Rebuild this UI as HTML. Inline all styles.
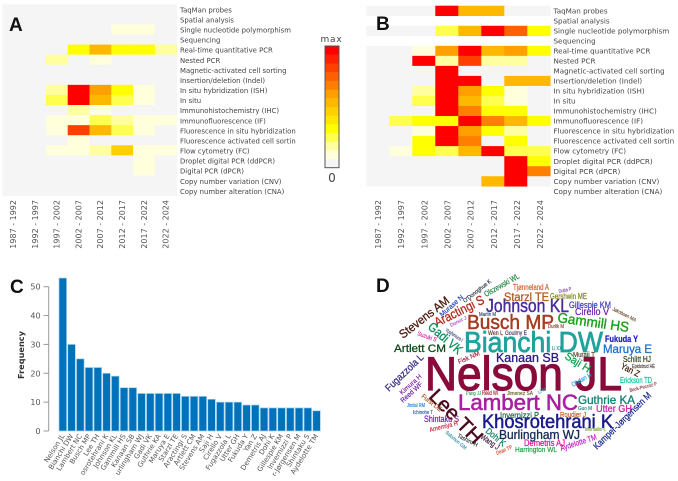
<!DOCTYPE html>
<html lang="en">
<head>
<meta charset="utf-8">
<title>Microchimerism bibliometric figure</title>
<style>
html,body{margin:0;padding:0;background:#fff;width:678px;height:481px;overflow:hidden}
svg{display:block;position:absolute;left:0;top:0;filter:blur(0.3px)}
.lbl{font-family:"DejaVu Sans",sans-serif;fill:#444}
.panel{font-family:"Liberation Sans",sans-serif;font-weight:700;font-size:19px;fill:#111}
.tick{font-family:"DejaVu Sans",sans-serif;font-size:8px;fill:#555}
.xlab{font-family:"DejaVu Sans",sans-serif;font-size:7px;fill:#555}
#wordcloud text{font-family:"Liberation Sans",sans-serif}
</style>
</head>
<body>
<svg id="fig" width="678" height="481" viewBox="0 0 678 481" xmlns="http://www.w3.org/2000/svg">
  <defs><clipPath id="barclip"><rect x="0" y="260" width="340" height="216"/></clipPath></defs>
  <g id="heatA"></g>
  <g id="heatB"></g>
  <g id="cbar"></g>
  <g id="bars"></g>
  <text class="panel" x="9" y="31">A</text>
  <text class="panel" x="376" y="30">B</text>
  <text class="panel" x="10" y="293">C</text>
  <text class="panel" x="376" y="292">D</text>
  <g id="wordcloud">
    <text transform="translate(425 390)" font-size="47" textLength="197" lengthAdjust="spacingAndGlyphs" fill="#8a0a3c">Nelson JL</text>
    <text transform="translate(464 352)" font-size="29" textLength="139" lengthAdjust="spacingAndGlyphs" fill="#1fa39c">Bianchi DW</text>
    <text transform="translate(458 410)" font-size="22" textLength="120" lengthAdjust="spacingAndGlyphs" fill="#a81fa0">Lambert NC</text>
    <text transform="translate(467 329)" font-size="20" textLength="87" lengthAdjust="spacingAndGlyphs" fill="#a83a1e">Busch MP</text>
    <text transform="translate(428 397) rotate(46)" font-size="20" textLength="67" lengthAdjust="spacingAndGlyphs" fill="#4a0a1e">Lee TH</text>
    <text transform="translate(482 428)" font-size="19" textLength="131" lengthAdjust="spacingAndGlyphs" fill="#1a1a8c">Khosrotehrani K</text>
    <text transform="translate(486 312)" font-size="18" textLength="83" lengthAdjust="spacingAndGlyphs" fill="#4b2aa0">Johnson KL</text>
    <text transform="translate(557 322) rotate(8)" font-size="14" textLength="72" lengthAdjust="spacingAndGlyphs" fill="#18a018">Gammill HS</text>
    <text transform="translate(496 362)" font-size="13" textLength="63" lengthAdjust="spacingAndGlyphs" fill="#2d1a80">Kanaan SB</text>
    <text transform="translate(499 439)" font-size="13" textLength="81" lengthAdjust="spacingAndGlyphs" fill="#152a5a">Burlingham WJ</text>
    <text transform="translate(504 301)" font-size="12" textLength="45" lengthAdjust="spacingAndGlyphs" fill="#b05a1e">Starzl TE</text>
    <text transform="translate(437 327) rotate(-26.6)" font-size="13" textLength="54" lengthAdjust="spacingAndGlyphs" fill="#b03020">Aractingi S</text>
    <text transform="translate(403 339) rotate(-38)" font-size="12" textLength="60" lengthAdjust="spacingAndGlyphs" fill="#4a1a10">Stevens AM</text>
    <text transform="translate(427 328) rotate(41)" font-size="13" textLength="41" lengthAdjust="spacingAndGlyphs" fill="#109060">Gadi VK</text>
    <text transform="translate(394 352)" font-size="11" textLength="52" lengthAdjust="spacingAndGlyphs" fill="#0f4a1a">Artlett CM</text>
    <text transform="translate(389 392) rotate(-44)" font-size="10" textLength="49" lengthAdjust="spacingAndGlyphs" fill="#3a2a80">Fugazzola L</text>
    <text transform="translate(603 353)" font-size="12" textLength="49" lengthAdjust="spacingAndGlyphs" fill="#1a70d0">Maruya E</text>
    <text transform="translate(605 342)" font-size="9.5" font-weight="700" textLength="33" lengthAdjust="spacingAndGlyphs" fill="#2020c0">Fukuda Y</text>
    <text transform="translate(578 404)" font-size="12" textLength="57" lengthAdjust="spacingAndGlyphs" fill="#108070">Guthrie KA</text>
    <text transform="translate(596 412)" font-size="10" textLength="36" lengthAdjust="spacingAndGlyphs" fill="#d020a0">Utter GH</text>
    <text transform="translate(564 358) rotate(32)" font-size="11" textLength="28" lengthAdjust="spacingAndGlyphs" fill="#10a050">Saji H</text>
    <text transform="translate(575 315)" font-size="10" textLength="34" lengthAdjust="spacingAndGlyphs" fill="#7020b0">Cirello V</text>
    <text transform="translate(569 308)" font-size="9" textLength="42" lengthAdjust="spacingAndGlyphs" fill="#4040b0">Gillespie KM</text>
    <text transform="translate(550 299)" font-size="8" textLength="37" lengthAdjust="spacingAndGlyphs" fill="#808020">Gershwin ME</text>
    <text transform="translate(513 290)" font-size="8" textLength="36" lengthAdjust="spacingAndGlyphs" fill="#d06030">Tjønneland A</text>
    <text transform="translate(486 297) rotate(-29.5)" font-size="8" textLength="39" lengthAdjust="spacingAndGlyphs" fill="#208040">Olszewski WL</text>
    <text transform="translate(465 303) rotate(-38)" font-size="6" textLength="34" lengthAdjust="spacingAndGlyphs" fill="#203040">O'Donoghue K</text>
    <text transform="translate(442 317) rotate(-41)" font-size="7" textLength="29" lengthAdjust="spacingAndGlyphs" fill="#2040c0">Murase N</text>
    <text transform="translate(417 335) rotate(20)" font-size="6" textLength="20" lengthAdjust="spacingAndGlyphs" fill="#d020a0">Suzuki S</text>
    <text transform="translate(623 362)" font-size="8" textLength="28" lengthAdjust="spacingAndGlyphs" fill="#304020">Schlitt HJ</text>
    <text transform="translate(620 368) rotate(27)" font-size="9" textLength="20" lengthAdjust="spacingAndGlyphs" fill="#402010">Yan Z</text>
    <text transform="translate(620 383)" font-size="8" textLength="32" lengthAdjust="spacingAndGlyphs" fill="#10c0a0">Erickson TD</text>
    <text transform="translate(597 450) rotate(-44.5)" font-size="9.5" textLength="77" lengthAdjust="spacingAndGlyphs" fill="#1a2a90">Kamper-Jørgensen M</text>
    <text transform="translate(424 422)" font-size="9" textLength="35" lengthAdjust="spacingAndGlyphs" fill="#8020b0">Shintaku S</text>
    <text transform="translate(524 446)" font-size="9" textLength="41" lengthAdjust="spacingAndGlyphs" fill="#e010a0">Demetris AJ</text>
    <text transform="translate(561 451) rotate(-18)" font-size="8" textLength="38" lengthAdjust="spacingAndGlyphs" fill="#c020c0">Aydelotte TM</text>
    <text transform="translate(515 452)" font-size="7.5" textLength="42" lengthAdjust="spacingAndGlyphs" fill="#20a040">Harrington WL</text>
    <text transform="translate(485 432) rotate(40)" font-size="9" textLength="23" lengthAdjust="spacingAndGlyphs" fill="#108060">Dohi K</text>
    <text transform="translate(500 418)" font-size="8.5" textLength="39" lengthAdjust="spacingAndGlyphs" fill="#206040">Invernizzi P</text>
    <text transform="translate(560 417)" font-size="7.5" textLength="26" lengthAdjust="spacingAndGlyphs" fill="#c06020">Roudier J</text>
    <text transform="translate(573 357)" font-size="7" textLength="22" lengthAdjust="spacingAndGlyphs" fill="#504020">Muraji T</text>
    <text transform="translate(480 438) rotate(35)" font-size="8" textLength="21" lengthAdjust="spacingAndGlyphs" fill="#402040">Wang J</text>
    <text transform="translate(457 437) rotate(27)" font-size="6" textLength="22" lengthAdjust="spacingAndGlyphs" fill="#304040">Tashiro H</text>
    <text transform="translate(430 432) rotate(-14)" font-size="6.5" textLength="29" lengthAdjust="spacingAndGlyphs" fill="#d02040">Amemiya H</text>
    <text transform="translate(402 395) rotate(-42)" font-size="6.5" textLength="27" lengthAdjust="spacingAndGlyphs" fill="#8020a0">Kimura H</text>
    <text transform="translate(403 403) rotate(-42)" font-size="7" textLength="27" lengthAdjust="spacingAndGlyphs" fill="#6020b0">Reed WF</text>
    <text transform="translate(421 397) rotate(38)" font-size="6.5" textLength="24" lengthAdjust="spacingAndGlyphs" fill="#a05020">Furst DE</text>
    <text transform="translate(407 407)" font-size="5" textLength="18" lengthAdjust="spacingAndGlyphs" fill="#2080d0">Jindal RM</text>
    <text transform="translate(413 414)" font-size="5" textLength="20" lengthAdjust="spacingAndGlyphs" fill="#2050a0">Ichinohe T</text>
    <text transform="translate(459 364) rotate(-23)" font-size="6.5" textLength="23" lengthAdjust="spacingAndGlyphs" fill="#a02040">Fisk NM</text>
    <text transform="translate(466 395)" font-size="5" textLength="15" lengthAdjust="spacingAndGlyphs" fill="#30a060">Pang JJ</text>
    <text transform="translate(482 395)" font-size="6" textLength="16" lengthAdjust="spacingAndGlyphs" fill="#a02030">Reed WI</text>
    <text transform="translate(507 395)" font-size="5.5" textLength="26" lengthAdjust="spacingAndGlyphs" fill="#606020">Jimenez SA</text>
    <text transform="translate(488 335)" font-size="6" textLength="15" lengthAdjust="spacingAndGlyphs" fill="#603020">Wen L</text>
    <text transform="translate(505 335)" font-size="6" textLength="22" lengthAdjust="spacingAndGlyphs" fill="#503060">Goulmy E</text>
    <text transform="translate(479 316)" font-size="5" textLength="17" lengthAdjust="spacingAndGlyphs" fill="#204060">Martin M</text>
    <text transform="translate(559 293) rotate(-12)" font-size="5" textLength="13" lengthAdjust="spacingAndGlyphs" fill="#8040a0">Dutta P</text>
    <text transform="translate(612 310) rotate(27)" font-size="5" textLength="26" lengthAdjust="spacingAndGlyphs" fill="#604020">Jakobsen MA</text>
    <text transform="translate(548 328)" font-size="5" textLength="16" lengthAdjust="spacingAndGlyphs" fill="#804030">Durlik M</text>
    <text transform="translate(552 350)" font-size="5" textLength="10" lengthAdjust="spacingAndGlyphs" fill="#208080">Li XX</text>
    <text transform="translate(573 387) rotate(-30)" font-size="6.5" textLength="22" lengthAdjust="spacingAndGlyphs" fill="#20a0e0">Ohdan H</text>
    <text transform="translate(632 368)" font-size="5.5" textLength="23" lengthAdjust="spacingAndGlyphs" fill="#403030">Epidstrud HE</text>
    <text transform="translate(630 392) rotate(-14)" font-size="5" textLength="28" lengthAdjust="spacingAndGlyphs" fill="#803040">Beck-Peccoz P</text>
    <text transform="translate(539 394) rotate(-30)" font-size="5" textLength="8" lengthAdjust="spacingAndGlyphs" fill="#20a0a0">Li H</text>
    <text transform="translate(578 410)" font-size="5" textLength="14" lengthAdjust="spacingAndGlyphs" fill="#207080">Guo M</text>
    <text transform="translate(585 431)" font-size="5" textLength="21" lengthAdjust="spacingAndGlyphs" fill="#70a030">Montalto L</text>
    <text transform="translate(497 455) rotate(-23)" font-size="5.5" textLength="17" lengthAdjust="spacingAndGlyphs" fill="#e04020">Dean TP</text>
    <text transform="translate(451 327) rotate(-27)" font-size="5" textLength="18" lengthAdjust="spacingAndGlyphs" fill="#a040c0">Donor J</text>
    <text transform="translate(445 331) rotate(33)" font-size="5" textLength="20" lengthAdjust="spacingAndGlyphs" fill="#404080">Yoshimura I</text>
    <text transform="translate(445 433) rotate(40)" font-size="5" textLength="26" lengthAdjust="spacingAndGlyphs" fill="#2090a0">Solomon GM</text>
  </g>
</svg>
<script>
/* Heatmap data: color-scale level (0-13) per method (row) and period (column); null = empty row */
var periods = ["1987 - 1992","1992 - 1997","1997 - 2002","2002 - 2007","2007 - 2012","2012 - 2017","2017 - 2022","2022 - 2024"];
var methods = ["TaqMan probes","Spatial analysis","Single nucleotide polymorphism","Sequencing","Real-time quantitative PCR","Nested PCR","Magnetic-activated cell sorting","Insertion/deletion (Indel)","In situ hybridization (ISH)","In situ","Immunohistochemistry (IHC)","Immunofluorescence (IF)","Fluorescence in situ hybridization","Fluorescence activated cell sortin","Flow cytometry (FC)","Droplet digital PCR (ddPCR)","Digital PCR (dPCR)","Copy number variation (CNV)","Copy number alteration (CNA)"];
var valuesA = [
 [0,0,0,0,0,0,0,0],
 [0,0,0,0,0,0,0,0],
 [0,0,0,0,0,1,1,0],
 [0,0,0,0,0,0,0,0],
 [0,0,0,4,7,4,4,2],
 [0,0,2,0,1,0,0,0],
 [0,0,0,0,0,0,0,0],
 [0,0,0,0,0,0,0,0],
 [0,0,2,13,8,4,1,0],
 [0,0,3,13,7,3,1,0],
 [0,0,0,2,1,0,0,0],
 [0,0,1,1,3,2,1,1],
 [0,0,1,11,7,3,1,0],
 [0,0,0,1,0,0,0,0],
 [0,0,1,1,2,6,1,1],
 [0,0,0,0,0,0,1,0],
 [0,0,0,0,0,0,1,0],
 [0,0,0,0,0,0,0,0],
 [0,0,0,0,0,0,0,0]
];
var valuesB = [
 [0,0,0,13,7,7,0,0],
 null,
 [0,0,0,3,7,13,10,4],
 null,
 [0,0,1,8,13,7,8,4],
 [0,0,13,2,11,2,2,0],
 [0,0,0,13,0,0,0,0],
 [0,0,0,13,13,0,7,7],
 [0,0,2,13,8,4,1,0],
 [0,0,3,13,7,3,1,0],
 [0,0,0,13,9,4,4,0],
 [0,3,4,4,13,9,7,4],
 [0,0,1,13,8,4,2,0],
 [0,0,4,13,9,0,4,0],
 [0,1,4,3,7,13,3,3],
 [0,0,0,0,0,0,13,4],
 [0,0,0,0,0,0,13,9],
 [0,0,0,0,0,7,13,0],
 null
];
var scaleLevels = [0,1,2,3,4,5,6,7,8,9,10,11,12,13];
var scaleColors = ["#f5f5f5","#ffffdc","#ffffa0","#ffff50","#ffff00","#ffe800","#ffd000","#ffb800","#ffa000","#ff8000","#ff6000","#ff4000","#ff2000","#ff0000"];

/* Bar chart data (labels as visible in the cropped figure) */
var authors = ["Nelson JL","Bianchi DW","Lambert NC","Busch MP","Lee TH","osrotehrani K","Johnson KL","Gammill HS","Kanaan SB","urlingham WJ","Gadi VK","Guthrie KA","Maruya E","Starzl TE","Aractingi S","Artlett CM","Stevens AM","Saji H","Cirello V","Fugazzola L","Utter GH","Fukuda Y","Yan Z","Demetris AJ","Dohi K","Gillespie KM","Invernizzi P","r-Jørgensen M","Shintaku S","Aydelotte TM"];
var frequency = [53,30,25,22,22,20,19,15,15,13,13,13,13,13,12,12,12,11,10,10,10,9,9,8,8,8,8,8,8,7];
var freqTicks = [0,10,20,30,40,50];

var NS = "http://www.w3.org/2000/svg";
function mk(parent, tag, attrs, txt) {
  var el = document.createElementNS(NS, tag);
  for (var k in attrs) el.setAttribute(k, attrs[k]);
  if (txt !== undefined) el.textContent = txt;
  parent.appendChild(el);
  return el;
}
function slug(s) { return s.toLowerCase().replace(/[^a-z0-9]+/g, "-").replace(/^-|-$/g, ""); }

function drawHeat(gid, data, prefix, x0, y0, cw, rh, labelX, labelY0, labelStep, labelSize, tickXs) {
  var g = document.getElementById(gid);
  function xs(c) { return x0 + c * cw; }
  function ys(r) { return y0 + r * rh; }
  data.forEach(function (row, r) {
    if (!row) return;
    row.forEach(function (v, c) {
      var cell = mk(g, "rect", {x: xs(c), y: ys(r), width: cw + 0.3, height: rh + 0.3, fill: scaleColors[v]});
      
      
    });
  });
  methods.forEach(function (m, r) {
    var t = mk(g, "text", {"class": "lbl", "font-size": labelSize, x: labelX, y: labelY0 + r * labelStep + 2.6}, m);
    
    
  });
  periods.forEach(function (p, c) {
    var t = mk(g, "text", {"class": "tick", "text-anchor": "end", transform: "translate(" + (tickXs(c) + 3) + " 200) rotate(-90)"}, p);
    
    
  });
}
drawHeat("heatA", valuesA, "a", 2.3, 4.3, 21.8, 10.07, 180, 9.7, 10.09, 6.9, function (c) { return 13 + c * 21.8; });
drawHeat("heatB", valuesB, "b", 366.3, 5.7, 23, 10.03, 553.5, 11, 10.01, 7.2, function (c) { return 378 + c * 23.15; });

/* Color scale */
(function () {
  var g = document.getElementById("cbar");
  var top = 46, bottom = 167.7, x = 325, w = 14, n = scaleLevels.length, h = (bottom - top) / n;
  scaleLevels.forEach(function (lv, i) {
    var seg = mk(g, "rect", {x: x, y: bottom - (i + 1) * h, width: w, height: h + 0.2, fill: scaleColors[lv]});
    
    
  });
  var frame = mk(g, "rect", {x: x, y: top, width: w, height: bottom - top, fill: "none", stroke: "#555", "stroke-width": 1});
  
  
  var maxT = mk(g, "text", {x: 331.5, y: 42, "text-anchor": "middle", "font-family": "DejaVu Sans, sans-serif", "font-size": 9, "letter-spacing": 0.8, fill: "#444"}, "max");
  
  
  var zero = mk(g, "text", {x: 332, y: 182, "text-anchor": "middle", "font-family": "DejaVu Sans, sans-serif", "font-size": 12, fill: "#444"}, "0");
  
  
})();

/* Bar chart */
(function () {
  var g = document.getElementById("bars");
  var baseY = 431, unit = 2.886, left = 59, step = 8.75, bw = 7.6;
  function y(v) { return baseY - v * unit; }
  function x(i) { return left + i * step; }
  frequency.forEach(function (v, i) {
    var b = mk(g, "rect", {x: x(i), y: y(v), width: bw, height: baseY - y(v), fill: "#0072bc", stroke: "#a5d0ea", "stroke-width": 0.7});
    
    
  });
  var axis = mk(g, "line", {x1: 48.7, x2: 48.7, y1: y(0), y2: y(freqTicks[freqTicks.length - 1]), stroke: "#999", "stroke-width": 1});
  
  
  freqTicks.forEach(function (v) {
    var tk = mk(g, "line", {x1: 43.5, x2: 48.7, y1: y(v), y2: y(v), stroke: "#999", "stroke-width": 1});
    
    
    var t = mk(g, "text", {"class": "tick", x: 40.6, y: y(v) + 3, "text-anchor": "end"}, String(v));
    
    
  });
  var title = mk(g, "text", {transform: "translate(24 355) rotate(-90)", "text-anchor": "middle", "font-family": "DejaVu Sans, sans-serif", "font-size": 8.2, "font-weight": 700, fill: "#333"}, "Frequency");
  
  
  var labels = mk(g, "g", {"clip-path": "url(#barclip)"});
  
  
  authors.forEach(function (a, i) {
    var t = mk(labels, "text", {"class": "xlab", "text-anchor": "end", transform: "translate(" + (x(i) + bw / 2 + 2) + " 436) rotate(-58)"}, a);
    
    
  });
})();

/* Thicken the word-cloud glyphs to match the semi-bold look of the reference */
Array.prototype.forEach.call(document.querySelectorAll("#wordcloud text"), function (t) {
  t.setAttribute("stroke", t.getAttribute("fill"));
  t.setAttribute("stroke-width", parseFloat(t.getAttribute("font-size")) * 0.025);
});
</script>
</body>
</html>
